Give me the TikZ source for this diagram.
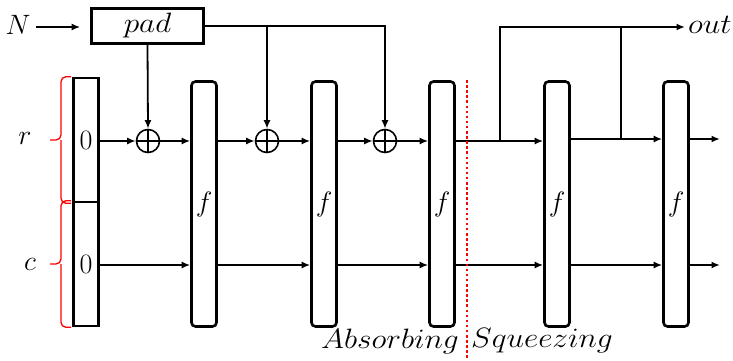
\RequirePackage{fix-cm}
\documentclass[tikz,border=0pt]{standalone}
\usetikzlibrary{arrows.meta}
\newcommand{\widen}[1]{\scalebox{1.12}[1]{#1}}
\begin{document}
\begin{tikzpicture}[x=1pt,y=-1pt,
  fbox/.style={draw,line width=2.6pt,rounded corners=4pt,minimum width=25pt,minimum height=245pt,inner sep=0pt},
  zbox/.style={draw,line width=2.6pt,minimum width=25pt,minimum height=124pt,inner sep=0pt},
  padbox/.style={draw,line width=2.6pt,minimum width=112pt,minimum height=35pt,inner sep=0pt},
  xorc/.style={draw,circle,line width=1.6pt,minimum size=23pt,inner sep=0pt},
  arr/.style={line width=1.8pt,-{Latex[length=8.5pt,width=7pt]}},
  ln/.style={line width=1.8pt},
  lbl/.style={font=\fontsize{28}{32}\selectfont,inner sep=0pt},
  brc/.style={red,line width=1.3pt,rounded corners=5pt}]
\useasboundingbox (0,0) rectangle (733,361);

% rows of the state: rate (r) and capacity (c)
\coordinate (R) at (0,141);
\coordinate (C) at (0,265);

% initial state
\node[zbox,lbl] (zr) at (86,140) {0};
\node[zbox,lbl] (zc) at (86,264) {0};
\node[lbl] (r) at (25,138) {$r$};
\node[lbl] (c) at (30,264) {$c$};
\draw[brc] (zr.north west) ++(-1,0) -| (61,140) -- (50,140);
\draw[brc] (zr.south west) ++(-1,0) -| (61,140);
\draw[brc] (zc.north west) ++(-1,0) -| (61,264) -- (50,264);
\draw[brc] (zc.south west) ++(-1,0) -| (61,264);

% permutation blocks
\node[fbox,lbl] (f1) at (204,204) {$f$};
\node[fbox,lbl] (f2) at (324,204) {$f$};
\node[fbox,lbl] (f3) at (442,204) {$f$};
\node[fbox,lbl] (f4) at (557,204) {$f$};
\node[fbox,lbl] (f5) at (676,204) {$f$};

% padding and XOR of the message blocks
\node[lbl] (N) at (18,25) {$N$};
\coordinate (nin) at (36,27);
\node[padbox,lbl] (pad) at (147.5,26) {\widen{$pad$}};
\node[xorc] (x1) at (148,141) {};
\node[xorc] (x2) at (267,141) {};
\node[xorc] (x3) at (385,141) {};
\foreach \x in {x1,x2,x3} {
  \draw[line width=1.6pt] (\x.north) -- (\x.south) (\x.west) -- (\x.east);
}
\draw[arr,shorten >=10pt] (nin) -- (nin -| pad.west);
\draw[arr] (pad.south) -- (x1.north);
\draw[arr] (pad.east) -| (x3.north);
\draw[arr] (x2 |- pad.east) -- (x2.north);

% rate row
\draw[arr] (zr.east |- R) -- (x1.west);
\draw[arr] (x1.east) -- (f1.west |- R);
\draw[arr] (f1.east |- R) -- (x2.west);
\draw[arr] (x2.east) -- (f2.west |- R);
\draw[arr] (f2.east |- R) -- (x3.west);
\draw[arr] (x3.east) -- (f3.west |- R);
\draw[arr] (f3.east |- R) -- (f4.west |- R);
\draw[arr] (f4.east |- 0,139) -- (f5.west |- 0,139);
\coordinate (endR) at (720,139);
\coordinate (endC) at (720,265);
\draw[arr] (f5.east |- endR) -- (endR);

% capacity row
\draw[arr] (zc.east |- C) -- (f1.west |- C);
\draw[arr] (f1.east |- C) -- (f2.west |- C);
\draw[arr] (f2.east |- C) -- (f3.west |- C);
\draw[arr] (f3.east |- C) -- (f4.west |- C);
\draw[arr] (f4.east |- C) -- (f5.west |- C);
\draw[arr] (f5.east |- C) -- (endC);

% squeezed output
\node[lbl,anchor=west] (out) at (688,25) {\widen{$out$}};
\coordinate (s1) at (500,141);
\coordinate (s2) at (621,139);
\draw[arr] (s1) |- (685,27);
\draw[ln] (s2) -- (s2 |- 0,27);

% phase separator
\draw[red,line width=2.5pt,dash pattern=on 2.5pt off 2.6pt] (467,80) -- (467,361);
\node[lbl] (abs) at (390,341) {\widen{$Absorbing$}};
\node[lbl] (sqz) at (542,341) {\widen{$Squeezing$}};
\end{tikzpicture}
\end{document}
